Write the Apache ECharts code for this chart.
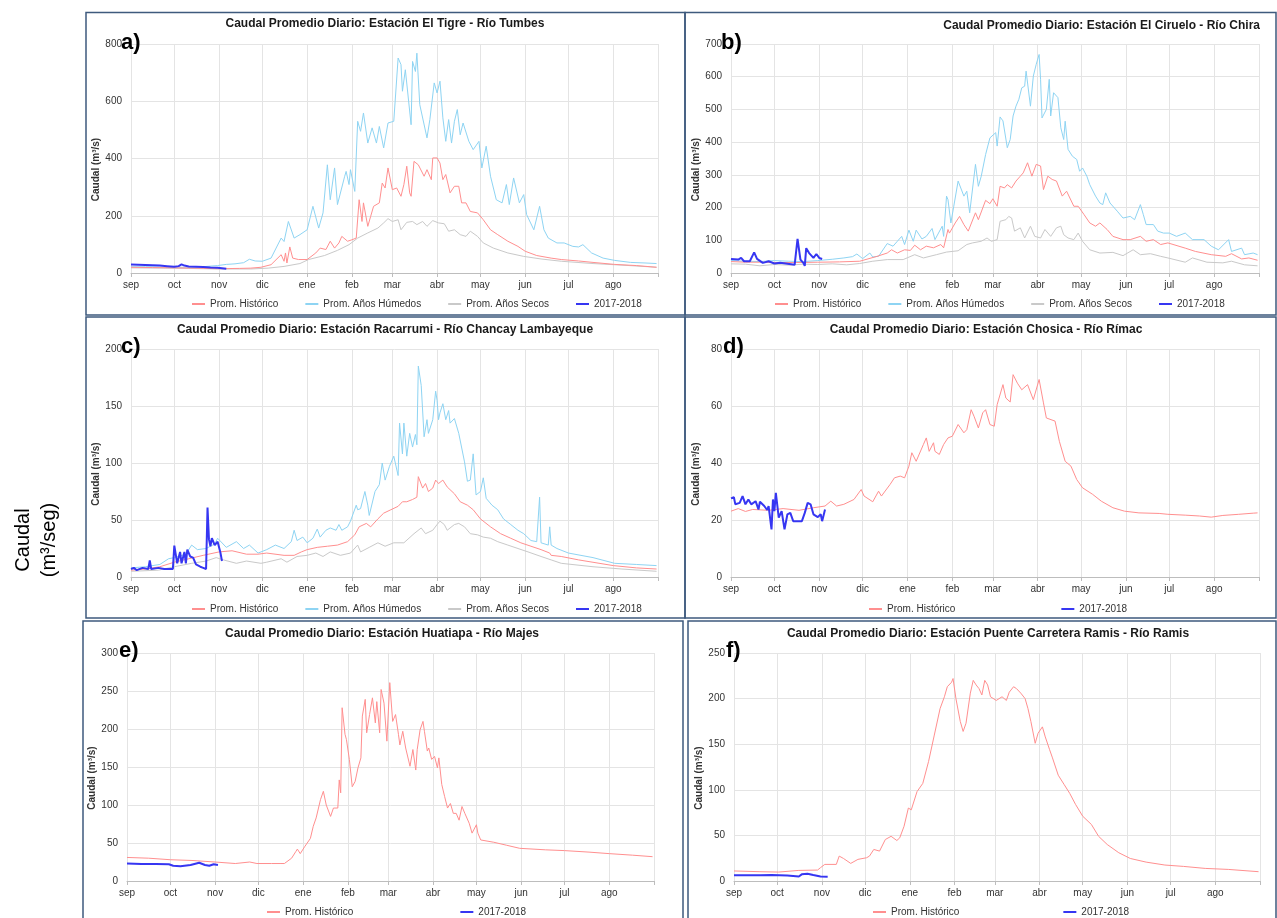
<!DOCTYPE html>
<html><head><meta charset="utf-8">
<script src="https://cdn.jsdelivr.net/npm/echarts@6/dist/echarts.min.js"></script>
<style>html,body{margin:0;padding:0;background:#fff}#main{width:1277px;height:918px}</style>
</head><body><div id="main"></div>
<script>
// ---------- axis / tick labels ----------
const monthNames = ['sep','oct','nov','dic','ene','feb','mar','abr','may','jun','jul','ago'];
const monthStarts = [0,30,61,91,122,153,181,212,242,273,303,334];
const yearDays = 365;
const seriesNames = {hist:'Prom. Histórico', wet:'Prom. Años Húmedos', dry:'Prom. Años Secos', obs:'2017-2018'};

// ---------- a) El Tigre - Tumbes ----------
const aHist = [[0,20],[15,19],[30,18],[45,17],[60,15],[75,16],[83,17],[90,20],[97,29],[104,64],[106,41],[107,70],[108,35],[110,91],[112,52],[116,47],[122,47],[128,70],[131,87],[135,82],[138,111],[141,87],[144,105],[146,128],[150,111],[153,116],[156,122],[158,256],[160,180],[161,245],[164,163],[166,198],[168,233],[172,245],[174,314],[176,297],[178,367],[181,291],[184,297],[187,268],[189,309],[191,373],[193,280],[194,268],[196,390],[199,378],[203,338],[205,361],[208,326],[209,402],[212,402],[214,384],[216,326],[218,344],[221,280],[224,303],[227,303],[229,245],[232,245],[235,215],[240,210],[244,186],[249,151],[254,134],[261,111],[268,93],[273,76],[281,61],[291,52],[298,47],[310,42],[320,37],[335,30],[350,26],[364,20]];
const aWet = [[0,22],[10,22],[20,21],[30,20],[40,20],[50,22],[60,26],[66,30],[72,32],[78,36],[82,48],[86,42],[91,41],[97,52],[104,122],[106,110],[109,180],[113,122],[117,134],[122,151],[123,145],[126,233],[130,157],[133,210],[136,378],[138,256],[141,367],[143,239],[148,338],[149,355],[151,309],[152,361],[155,285],[157,530],[159,495],[161,559],[164,454],[167,507],[170,454],[172,512],[175,437],[178,524],[182,530],[185,751],[187,728],[188,635],[190,710],[194,518],[195,739],[197,704],[198,768],[200,588],[205,472],[207,536],[210,664],[212,629],[214,670],[216,542],[218,460],[220,536],[222,454],[224,530],[226,571],[228,483],[230,524],[234,460],[237,431],[241,460],[243,367],[246,443],[249,338],[253,256],[257,245],[260,309],[262,239],[265,332],[269,245],[272,274],[274,204],[279,151],[283,233],[286,151],[289,122],[295,105],[300,105],[306,93],[310,91],[313,99],[319,70],[327,52],[335,44],[346,37],[356,35],[364,33]];
const aDry = [[0,18],[20,17],[40,16],[60,14],[83,14],[95,17],[106,23],[117,33],[123,47],[134,61],[143,79],[151,99],[157,122],[164,140],[171,157],[175,175],[178,190],[181,180],[185,186],[187,151],[191,177],[195,180],[198,169],[202,180],[205,163],[209,183],[213,175],[217,172],[220,146],[224,151],[228,134],[232,128],[235,146],[240,128],[244,105],[251,87],[261,70],[272,58],[284,49],[298,41],[320,33],[345,26],[364,20]];
const aObs = [[0,30],[5,29],[10,28],[15,27],[20,26],[25,24],[30,22],[33,24],[35,30],[37,26],[40,23],[45,22],[50,21],[55,19],[60,18],[63,17],[66,15]];

// ---------- b) El Ciruelo - Chira ----------
const bHist = [[0,35],[10,33],[20,33],[30,32],[45,32],[60,33],[75,34],[89,36],[101,51],[108,61],[111,71],[115,61],[120,71],[124,69],[127,85],[131,71],[135,82],[140,77],[145,87],[147,77],[150,133],[151,122],[155,153],[158,173],[161,148],[164,128],[169,184],[171,163],[176,222],[179,212],[181,227],[184,204],[186,265],[189,260],[191,270],[194,260],[197,281],[200,296],[202,306],[205,337],[208,296],[211,332],[214,327],[216,255],[219,296],[222,286],[225,281],[229,235],[232,250],[237,204],[240,204],[244,179],[248,153],[252,143],[255,153],[260,133],[264,112],[271,102],[276,102],[283,112],[287,97],[292,102],[297,87],[302,92],[314,76],[321,66],[332,56],[342,51],[346,59],[353,43],[358,46],[364,39]];
const bWet = [[0,38],[10,36],[20,35],[30,38],[40,36],[50,35],[60,38],[70,42],[78,46],[84,50],[87,58],[91,44],[96,61],[98,49],[102,51],[108,90],[112,82],[115,97],[118,112],[120,87],[123,131],[126,97],[128,131],[132,104],[135,112],[139,136],[141,102],[146,143],[147,112],[149,235],[150,224],[152,153],[154,204],[157,281],[161,235],[163,250],[165,184],[169,332],[171,265],[173,296],[176,362],[179,413],[183,429],[184,388],[186,477],[188,465],[191,383],[193,408],[195,480],[197,510],[199,531],[201,566],[203,571],[204,617],[207,510],[209,602],[211,638],[213,668],[214,592],[215,474],[218,500],[220,592],[221,480],[223,551],[226,536],[228,444],[230,408],[231,464],[233,378],[236,357],[239,347],[241,311],[243,321],[246,296],[248,270],[252,235],[255,214],[257,209],[259,245],[262,214],[267,189],[271,168],[276,173],[279,163],[283,209],[285,179],[287,148],[292,148],[295,128],[299,122],[303,122],[308,112],[314,122],[319,102],[327,102],[332,82],[337,71],[344,102],[346,66],[353,76],[355,56],[361,61],[364,56]];
const bDry = [[0,28],[10,27],[20,22],[30,26],[40,24],[50,27],[60,26],[70,28],[80,25],[89,29],[98,36],[108,41],[119,41],[127,56],[133,46],[142,56],[149,64],[157,68],[163,87],[167,92],[173,97],[177,107],[180,97],[184,102],[186,158],[190,163],[192,173],[194,168],[196,128],[200,138],[203,107],[207,143],[210,112],[214,107],[217,133],[221,112],[225,138],[228,143],[230,117],[233,107],[237,102],[240,122],[243,97],[248,71],[255,61],[264,63],[271,53],[278,71],[283,56],[290,59],[297,51],[302,46],[314,33],[319,46],[329,33],[340,31],[346,36],[355,25],[364,22]];
const bObs = [[0,43],[5,41],[7,46],[9,36],[13,36],[16,63],[18,43],[22,31],[26,36],[30,29],[34,31],[39,28],[44,25],[46,104],[48,41],[50,31],[51,22],[52,76],[54,61],[57,46],[59,58],[61,46],[63,43]];

// ---------- c) Racarrumi - Chancay Lambayeque ----------
const cHist = [[0,6],[10,7],[20,9],[30,13],[40,16],[50,19],[61,22],[70,23],[80,20],[88,20],[94,21],[106,19],[113,19],[118,22],[122,24],[129,26],[136,27],[143,28],[150,31],[155,37],[158,44],[163,47],[166,44],[171,51],[175,56],[180,59],[185,62],[188,66],[191,66],[195,68],[198,70],[199,88],[202,78],[204,82],[206,75],[209,78],[211,85],[213,82],[216,85],[219,79],[224,73],[228,66],[233,63],[237,59],[242,51],[249,44],[256,38],[263,34],[270,30],[277,27],[284,24],[290,21],[291,19],[298,18],[310,15],[334,10],[350,8],[364,7]];
const cWet = [[0,8],[10,9],[20,11],[26,16],[30,17],[38,20],[42,28],[46,24],[52,25],[58,29],[60,34],[66,26],[73,31],[78,25],[82,28],[88,21],[94,24],[100,28],[106,25],[111,31],[113,41],[115,32],[119,35],[122,30],[126,34],[129,42],[131,35],[135,41],[138,43],[142,41],[144,46],[146,41],[150,44],[152,49],[156,63],[157,59],[159,60],[162,75],[164,63],[165,54],[169,75],[172,81],[174,100],[176,85],[179,97],[182,106],[185,89],[186,135],[188,108],[189,135],[191,106],[193,126],[195,114],[197,125],[198,116],[199,185],[201,168],[203,123],[205,138],[206,126],[209,138],[211,163],[212,155],[213,138],[214,144],[216,152],[218,138],[220,146],[221,135],[224,139],[227,126],[231,101],[233,84],[235,85],[237,108],[239,72],[242,75],[244,87],[246,69],[250,63],[254,59],[258,51],[263,46],[268,41],[272,38],[277,32],[281,31],[283,70],[284,30],[289,28],[290,44],[291,28],[295,25],[303,21],[320,17],[335,12],[350,11],[364,10]];
const cDry = [[0,5],[19,6],[30,9],[42,12],[52,14],[59,17],[64,15],[73,12],[80,14],[90,12],[94,13],[104,16],[108,13],[115,18],[122,19],[128,21],[133,18],[138,22],[145,19],[152,21],[157,28],[159,22],[165,26],[171,30],[176,27],[182,30],[189,30],[196,38],[201,43],[204,38],[209,41],[212,46],[214,49],[217,46],[219,41],[224,46],[227,47],[231,44],[235,38],[240,37],[244,35],[249,34],[254,31],[261,28],[268,25],[275,22],[284,18],[291,15],[298,12],[320,9],[340,7],[364,5]];
const cObs = [[0,7],[2,8],[4,6],[8,8],[12,7],[13,14.5],[14,7],[19,8],[23,7],[29,7],[30,27.5],[32,12],[34,22],[35,12],[37,22],[38,12],[39,24],[41,18],[43,17],[45,11],[46,12],[48,9],[50,8],[52,7],[53,61],[54,33],[55,27],[56,34],[58,28],[60,31],[62,21],[63,14]];

// ---------- d) Chosica - Rímac ----------
const dHist = [[0,23.1],[5,24],[10,23],[15,23.7],[26,23.4],[36,24],[47,23.4],[57,24.3],[65,24.9],[69,26.6],[73,24.9],[78,25.5],[85,27.2],[90,30.7],[92,28.4],[98,26.4],[102,30.1],[104,28.4],[110,32.5],[113,34.8],[117,35.4],[120,34.8],[123,38.9],[125,43.6],[128,40.6],[133,46.5],[135,48.8],[137,44.1],[140,47.1],[141,44.1],[144,43],[147,46.5],[150,48.8],[153,49.4],[157,53.5],[161,50.6],[163,51.7],[166,58.7],[168,56.4],[171,52.3],[174,57.6],[176,58.7],[179,53.5],[182,52.9],[184,60.5],[188,67.5],[190,62.8],[193,61.4],[195,71],[198,68],[201,65.7],[205,67.5],[209,62.2],[213,69.3],[216,61.1],[218,55.8],[224,54.7],[227,47.6],[231,40.6],[235,38.9],[239,34.2],[243,31.3],[250,29],[256,26.6],[264,24.3],[272,23.1],[282,22.5],[296,22.3],[302,22],[303,21.4],[314,21.7],[324,21.4],[332,21],[340,21.6],[351,22],[361,22.4],[364,22.5]];
const dObs = [[0,27.6],[2,28],[3,25.5],[6,26],[8,28.4],[10,25.5],[12,27.2],[14,25.5],[17,26.6],[19,23.7],[20,26.4],[23,24.9],[25,23.5],[26,24.9],[28,16.7],[29,27.2],[30,23.1],[31,29.5],[33,20.8],[35,23.1],[37,16.7],[39,22],[41,22.5],[43,19.6],[49,19.6],[51,22.5],[53,26],[55,25.5],[57,22],[60,21],[62,22],[63,19.6],[65,23.7]];

// ---------- e) Huatiapa - Majes ----------
const eHist = [[0,31],[15,30],[30,28],[45,27],[61,25],[75,23],[85,25],[90,23],[100,23],[106,23],[109,23],[114,30],[117,39],[118,42],[120,36],[123,45],[127,56],[129,72],[131,83],[134,107],[136,118],[138,100],[139,102],[141,85],[143,96],[146,96],[147,133],[148,116],[149,228],[151,193],[152,186],[154,160],[156,124],[158,131],[160,149],[162,162],[163,217],[165,239],[166,195],[168,219],[170,241],[172,208],[173,236],[175,195],[176,252],[178,234],[180,184],[182,261],[184,210],[186,219],[188,193],[189,179],[191,197],[193,175],[194,173],[196,151],[198,173],[200,146],[201,173],[203,199],[205,210],[206,197],[208,171],[209,175],[211,160],[213,164],[215,149],[216,162],[218,127],[220,111],[222,96],[224,102],[226,89],[228,89],[230,80],[232,98],[234,89],[237,76],[239,63],[240,61],[242,74],[243,63],[245,54],[254,51],[263,47],[272,43],[290,41],[303,40],[320,38],[334,36],[350,34],[364,32]];
const eObs = [[0,23],[10,22.5],[20,22.5],[29,22],[32,20],[37,19.5],[44,21],[50,24],[54,21],[57,20],[60,22],[63,21]];

// ---------- f) Puente Carretera Ramis - Ramis ----------
const fHist = [[0,11],[18,10.2],[31,9.8],[45,11.6],[58,12],[60,14.6],[63,18.2],[71,18.2],[73,27.3],[76,24.7],[81,19.3],[86,23.7],[92,25.5],[94,27.3],[97,34.6],[101,32.8],[105,45.5],[109,49],[113,44.4],[115,47.3],[118,60],[121,80],[123,78],[127,98],[131,107],[135,131],[139,160],[143,189],[146,202],[148,213],[151,218],[152,222],[154,200],[157,175],[159,164],[161,173],[164,206],[166,220],[168,215],[170,211],[172,204],[174,220],[176,215],[178,202],[182,198],[186,202],[189,198],[191,207],[194,213],[196,211],[199,206],[202,200],[204,189],[206,175],[209,151],[211,162],[214,169],[216,158],[219,144],[221,135],[225,116],[229,106],[233,96],[237,84],[242,71],[248,62],[253,49],[259,40],[267,31],[275,24.7],[286,20.7],[299,17.5],[312,16],[327,13.8],[343,12.7],[364,10.2]];
const fObs = [[0,6.2],[18,6.2],[26,6.5],[37,6],[45,5],[47,7.3],[51,8],[55,6.5],[60,5],[65,4.7]];

// ---------- layout ----------
const FONT = '"Liberation Sans", Arial, sans-serif';
const COLORS = {hist:'#ff8f8f', wet:'#8ed4f3', dry:'#c9c9c9', obs:'#3636f2'};
const panels = [
  {letter:'a)', title:'Caudal Promedio Diario: Estación El Tigre - Río Tumbes', tx:385, ty:25, talign:'center',
   grid:[131,44,527,229], yMax:800, yInt:200, data:{wet:aWet, dry:aDry, hist:aHist, obs:aObs},
   leg:[192,305,27], lx:121, ly:43, box:[86,12.5,599,302.5]},
  {letter:'b)', title:'Caudal Promedio Diario: Estación El Ciruelo - Río Chira', tx:1260, ty:27, talign:'right',
   grid:[731,44,528,229], yMax:700, yInt:100, data:{wet:bWet, dry:bDry, hist:bHist, obs:bObs},
   leg:[775,305,27], lx:721, ly:43, box:[685,12.5,591,302.5]},
  {letter:'c)', title:'Caudal Promedio Diario: Estación Racarrumi - Río Chancay Lambayeque', tx:385, ty:331, talign:'center',
   grid:[131,349,527,228], yMax:200, yInt:50, data:{wet:cWet, dry:cDry, hist:cHist, obs:cObs},
   leg:[192,610,27], lx:121, ly:347, box:[86,317,599,301]},
  {letter:'d)', title:'Caudal Promedio Diario: Estación Chosica - Río Rímac', tx:986, ty:331, talign:'center',
   grid:[731,349,528,228], yMax:80, yInt:20, data:{hist:dHist, obs:dObs},
   leg:[869,610,106], lx:723, ly:347, box:[685,317,591,301]},
  {letter:'e)', title:'Caudal Promedio Diario: Estación Huatiapa - Río Majes', tx:382, ty:635, talign:'center',
   grid:[127,653,527,228], yMax:300, yInt:50, data:{hist:eHist, obs:eObs},
   leg:[267,913,107], lx:119, ly:651, box:[83,621,600,300]},
  {letter:'f)', title:'Caudal Promedio Diario: Estación Puente Carretera Ramis - Río Ramis', tx:988, ty:635, talign:'center',
   grid:[734,653,526,228], yMax:250, yInt:50, data:{hist:fHist, obs:fObs},
   leg:[873,913,104], lx:726, ly:651, box:[688,621,588,300]}
];

const tickDays = monthStarts.concat([yearDays]);
const grid=[], xAxis=[], yAxis=[], series=[], legend=[], title=[], graphic=[];
const zOrder = {wet:2, dry:3, hist:4, obs:5};

panels.forEach((p,i)=>{
  grid.push({left:p.grid[0], top:p.grid[1], width:p.grid[2], height:p.grid[3]});
  xAxis.push({type:'value', gridIndex:i, min:0, max:yearDays,
    axisLine:{show:true, lineStyle:{color:'#bdbdbd', width:1}},
    axisTick:{show:true, length:4, customValues:tickDays, lineStyle:{color:'#bdbdbd'}},
    axisLabel:{customValues:monthStarts, formatter:v=>monthNames[monthStarts.indexOf(v)],
      fontSize:10, color:'#333', margin:7, fontFamily:FONT},
    splitLine:{show:true, lineStyle:{color:'#e4e4e4', width:1}}});
  yAxis.push({type:'value', gridIndex:i, min:0, max:p.yMax, interval:p.yInt,
    name:'Caudal (m³/s)', nameLocation:'middle', nameGap:30,
    nameTextStyle:{fontSize:10, fontWeight:'bold', color:'#333', fontFamily:FONT, padding:[0,22,0,0]},
    axisLine:{show:false}, axisTick:{show:false},
    axisLabel:{fontSize:10, color:'#333', margin:9, fontFamily:FONT},
    splitLine:{show:true, lineStyle:{color:'#e4e4e4', width:1}}});
  const legNames = [];
  ['hist','wet','dry','obs'].forEach(k=>{ if (p.data[k]) legNames.push(seriesNames[k]); });
  Object.keys(p.data).forEach(k=>{
    series.push({type:'line', name:seriesNames[k], xAxisIndex:i, yAxisIndex:i, data:p.data[k],
      showSymbol:false, symbol:'none', silent:true, animation:false, z:zOrder[k],
      lineStyle:{color:COLORS[k], width:k==='obs'?2:1}, itemStyle:{color:COLORS[k]}});
  });
  legend.push({left:p.leg[0], top:p.leg[1]-6, itemGap:p.leg[2], itemWidth:13, itemHeight:2, icon:'rect',
    padding:0, selectedMode:false, data:legNames,
    textStyle:{fontSize:10, color:'#333', fontFamily:FONT}});
  title.push({text:p.title, left:p.tx, top:p.ty-7, textAlign:p.talign, padding:0,
    textStyle:{fontSize:12, fontWeight:'bold', color:'#1a1a1a', fontFamily:FONT}});
  graphic.push({type:'rect', silent:true, z:1,
    shape:{x:p.box[0], y:p.box[1], width:p.box[2], height:p.box[3]},
    style:{fill:'none', stroke:'#3e5a7d', lineWidth:1.5}});
  graphic.push({type:'text', silent:true, z:100, x:p.lx, y:p.ly,
    style:{text:p.letter, font:'bold 22px '+FONT, fill:'#000', textAlign:'left', textVerticalAlign:'middle'}});
});

graphic.push({type:'text', silent:true, z:100, x:36, y:540, rotation:Math.PI/2,
  style:{text:'Caudal\n(m³/seg)', font:'20px '+FONT, fill:'#000', textAlign:'center', textVerticalAlign:'middle', lineHeight:26}});

const chart = echarts.init(document.getElementById('main'), null, {renderer:'canvas', width:1277, height:918});
chart.setOption({backgroundColor:'#ffffff', animation:false, grid, xAxis, yAxis, series, legend, title, graphic});
</script></body></html>
